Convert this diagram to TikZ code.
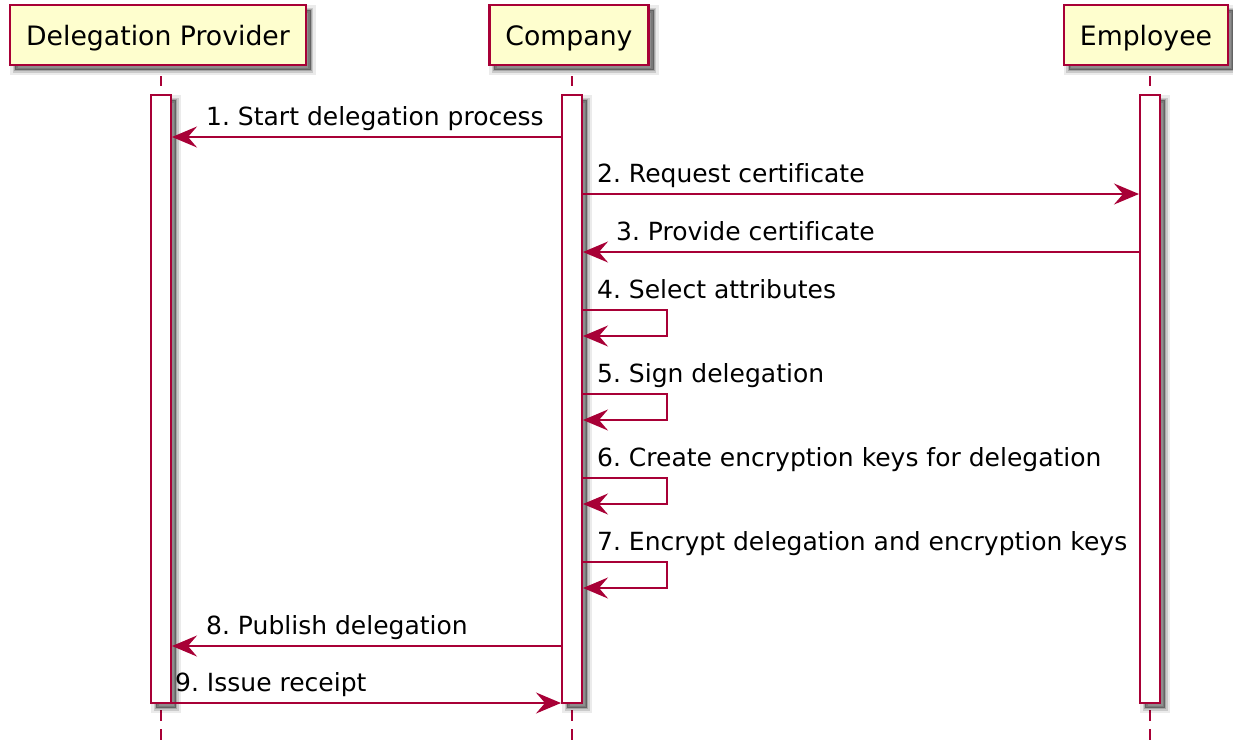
\documentclass[tikz,border=0pt]{standalone}
\usepackage{fontspec}
\setmainfont{DejaVu Sans}[Ligatures=NoCommon]
\usetikzlibrary{arrows.meta,shadows}

\definecolor{plumline}{HTML}{A80036}
\definecolor{plumfill}{HTML}{FEFECE}

\begin{document}
\frenchspacing
\begin{tikzpicture}[
    x=1pt, y=-1pt,
    soft shadow/.style={
        general shadow={shadow xshift=5pt, shadow yshift=-5pt, draw=black, draw opacity=.08, line width=10pt},
        general shadow={shadow xshift=5pt, shadow yshift=-5pt, draw=black, draw opacity=.14, line width=5pt},
        general shadow={shadow xshift=5pt, shadow yshift=-5pt, fill=black, fill opacity=.4, draw=black, draw opacity=.18, line width=2pt}},
    participant/.style={rectangle, draw=plumline, fill=plumfill, line width=2.2pt, minimum height=60pt,
        inner xsep=16pt, text height=20pt, text depth=0pt, font=\fontsize{26.7}{32}\selectfont, soft shadow},
    activation/.style={rectangle, draw=plumline, fill=white, line width=2pt, minimum width=20pt,
        minimum height=608pt, inner sep=0pt, soft shadow},
    lifeline/.style={draw=plumline, line width=2pt, dash pattern=on 11pt off 8pt},
    msg/.style={draw=plumline, line width=1.9pt, -{Stealth[length=25pt,width=21pt,inset=9pt,fill=plumline]}},
    msglabel/.style={anchor=base west, inner sep=0pt, font=\fontsize{25}{30}\selectfont}
]
\useasboundingbox (0,0) rectangle (1233,740);
\coordinate (bottom) at (0,740);

% participants
\node[participant] (provider) at (158,35) {Delegation Provider};
\node[participant] (company) at (569,35) {Company};
\node[participant] (employee) at (1146,35) {Employee};

% lifelines, drawn below the activation bars
\coordinate (providerline) at (161,399);
\coordinate (companyline) at (572,399);
\coordinate (employeeline) at (1150,399);
\foreach \who in {provider,company,employee} {
    \draw[lifeline, dash pattern=on 10pt off 10pt, dash phase=10pt] (\who.south -| \who line) -- (\who line |- 0,95);
    \draw[lifeline, dash phase=12pt] (\who line |- 0,703) -- (\who line |- bottom);
}

% activation bars
\node[activation] (providerbar) at (providerline) {};
\node[activation] (companybar) at (companyline) {};
\node[activation] (employeebar) at (employeeline) {};

% messages
\node[msglabel] (l1) at (206,125) {1. Start delegation process};
\draw[msg] (companybar.west |- 0,137) -- (providerbar.east |- 0,137);

\node[msglabel] (l2) at (597,182) {2. Request certificate};
\draw[msg] (companybar.east |- 0,194) -- (employeebar.west |- 0,194);

\node[msglabel] (l3) at (616,240) {3. Provide certificate};
\draw[msg] (employeebar.west |- 0,252) -- (companybar.east |- 0,252);

% self messages on the company bar
\foreach \y/\txt in {310/4. Select attributes,
                     394/5. Sign delegation,
                     478/6. Create encryption keys for delegation,
                     562/7. Encrypt delegation and encryption keys} {
    \node[msglabel] (self\y) at (597,\y-12) {\txt};
    \draw[msg] (companybar.east |- 0,\y) -- ++(84,0) -- ++(0,26) -- (companybar.east |- 0,\y+26);
}

\node[msglabel] (l8) at (206,634) {8. Publish delegation};
\draw[msg] (companybar.west |- 0,646) -- (providerbar.east |- 0,646);

\node[msglabel] (l9) at (175,691) {9. Issue receipt};
\draw[msg] (providerbar.east |- 0,703) -- (companybar.west |- 0,703);

\end{tikzpicture}
\end{document}
